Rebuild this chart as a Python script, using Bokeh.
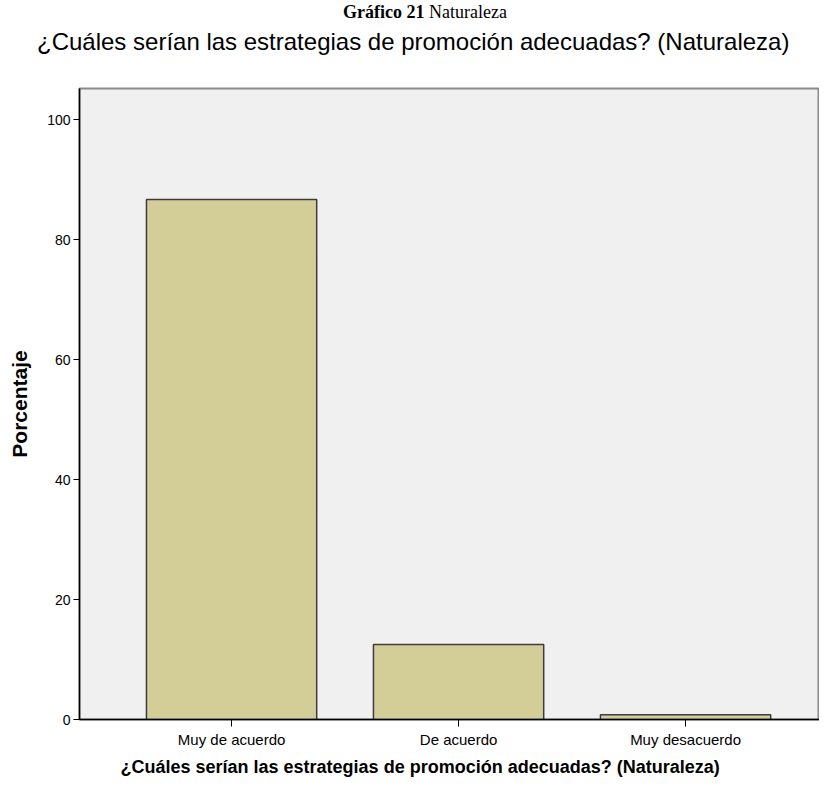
from bokeh.plotting import figure
from bokeh.models import Range1d, FixedTicker, ColumnDataSource, Div, Title
from bokeh.layouts import column
from bokeh.embed import file_html
from bokeh.resources import INLINE

categories = ["Muy de acuerdo", "De acuerdo", "Muy desacuerdo"]
percentages = [86.7, 12.5, 0.8]
y_ticks = [0, 20, 40, 60, 80, 100]

caption_bold = "Gráfico 21"
caption_rest = "Naturaleza"
title_text = "¿Cuáles serían las estrategias de promoción adecuadas? (Naturaleza)"
x_label = "¿Cuáles serían las estrategias de promoción adecuadas? (Naturaleza)"
y_label = "Porcentaje"

positions = [i + 0.5 for i in range(len(categories))]
src = ColumnDataSource(dict(x=positions, top=percentages, cat=categories))

DIV_H = 66
header = Div(
    text=(
        "<div style=\"font-family:'Liberation Serif',serif;font-size:18px;"
        "line-height:24px;height:24px;padding-left:343px;white-space:nowrap;color:black;\">"
        f"<b>{caption_bold}</b> {caption_rest}</div>"
        "<div style=\"font-family:'Liberation Sans',sans-serif;font-size:24px;"
        "line-height:28px;margin-top:4px;padding-left:37px;white-space:nowrap;color:black;\">"
        f"{title_text}</div>"
    ),
    width=819, height=DIV_H, margin=(0, 0, 0, 0),
)

p = figure(width=819, height=782 - DIV_H, output_backend="svg", toolbar_location=None,
           x_range=Range1d(-0.17, 3.09), y_range=Range1d(0, 105.2),
           min_border_left=79, min_border_right=0, min_border_top=88 - DIV_H,
           min_border_bottom=63, margin=(0, 0, 0, 0))

p.vbar(x="x", top="top", width=0.75, source=src, fill_color="#D3CE97",
       line_color="#3c3c3c", line_width=1.5)

p.background_fill_color = "#F0F0F0"
p.border_fill_color = "white"
p.outline_line_color = "#8a8a8a"
p.outline_line_width = 2
p.grid.visible = False

ax = p.xaxis[0]
ax.ticker = FixedTicker(ticks=positions)
ax.major_label_overrides = {pos: c for pos, c in zip(positions, categories)}
ax.major_label_text_font = "Liberation Sans"
ax.major_label_text_font_size = "15px"
ax.major_label_text_color = "black"
ax.major_label_standoff = 4
ax.major_tick_out = 7
ax.major_tick_in = 0
ax.minor_tick_line_color = None
ax.axis_line_color = "black"
ax.axis_line_width = 1.5
ax.major_tick_line_color = "black"

xt = Title(text=x_label, text_font="Liberation Sans", text_font_style="bold",
           text_font_size="18px", text_color="black", align="left", offset=41,
           standoff=8)
p.add_layout(xt, "below")

ay = p.yaxis[0]
ay.ticker = FixedTicker(ticks=y_ticks)
ay.axis_label = y_label
ay.axis_label_text_font = "Liberation Sans"
ay.axis_label_text_font_style = "bold"
ay.axis_label_text_font_size = "21px"
ay.axis_label_text_color = "black"
ay.axis_label_standoff = 13
ay.major_label_text_font = "Liberation Sans"
ay.major_label_text_font_size = "14px"
ay.major_label_text_color = "black"
ay.major_label_standoff = 3
ay.major_tick_out = 6
ay.major_tick_in = 0
ay.minor_tick_line_color = None
ay.axis_line_color = "black"
ay.axis_line_width = 1.5
ay.major_tick_line_color = "black"

layout = column(header, p, spacing=0)
open("out.html", "w").write(file_html(layout, INLINE))
